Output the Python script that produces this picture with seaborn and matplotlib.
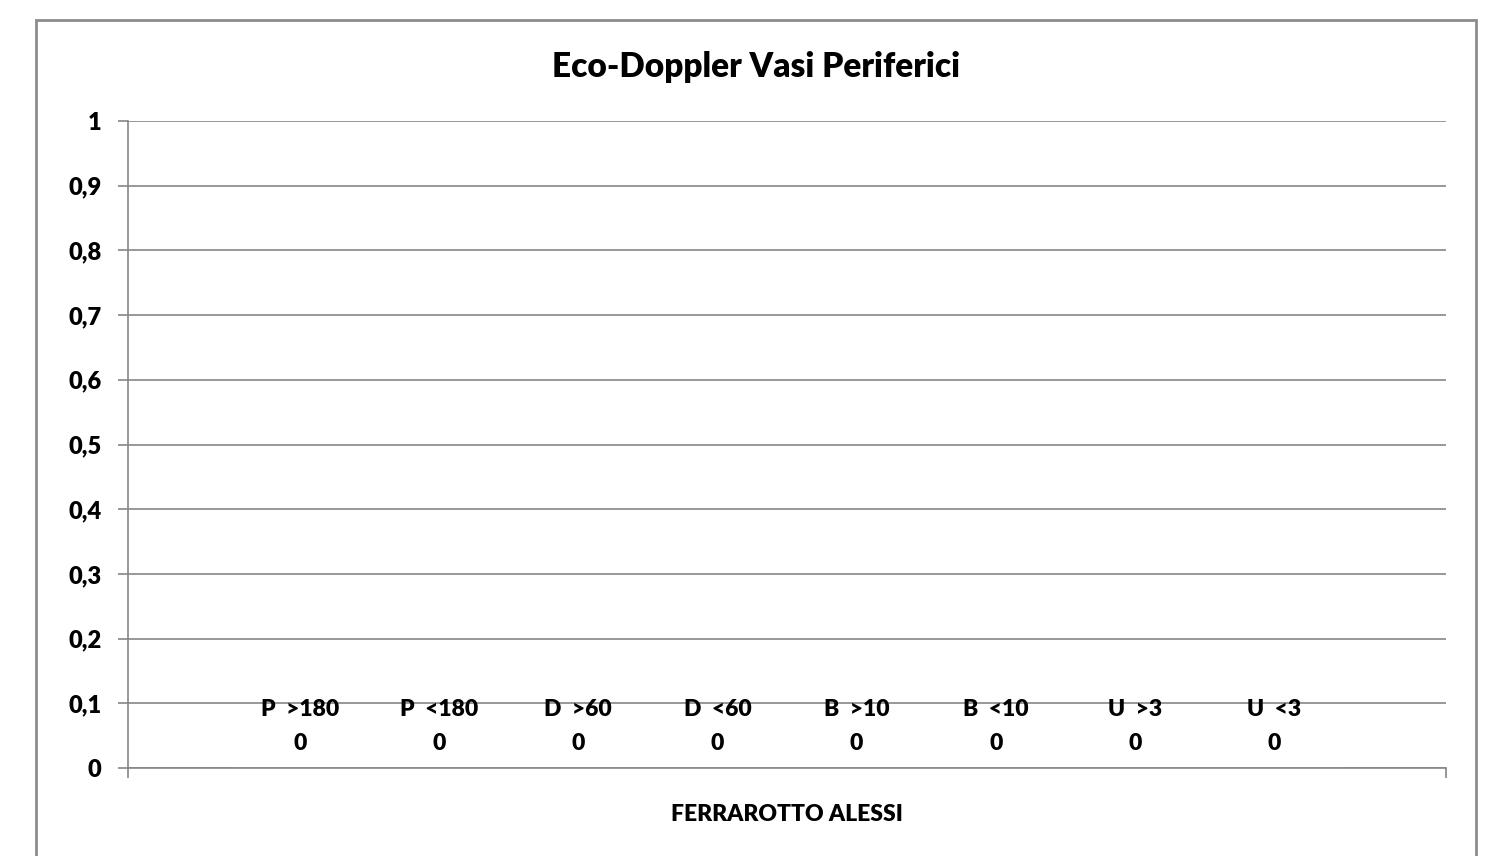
import matplotlib
matplotlib.use("Agg")
import matplotlib.pyplot as plt
import seaborn as sns
import pandas as pd
from matplotlib.patches import Rectangle
from matplotlib.ticker import FuncFormatter, FixedLocator

title = "Eco-Doppler Vasi Periferici"
category = "FERRAROTTO ALESSI"
series = ["P  >180", "P  <180", "D  >60", "D  <60", "B  >10", "B  <10", "U  >3", "U  <3"]
values = [0, 0, 0, 0, 0, 0, 0, 0]
y_ticks = [0, 0.1, 0.2, 0.3, 0.4, 0.5, 0.6, 0.7, 0.8, 0.9, 1]

sns.set_theme(style="white")
plt.rcParams["font.family"] = ["Lato", "DejaVu Sans"]
WEIGHT = "heavy"
plt.rcParams["font.weight"] = WEIGHT
plt.rcParams["text.color"] = "black"
plt.rcParams["xtick.labelcolor"] = "black"
plt.rcParams["ytick.labelcolor"] = "black"

df = pd.DataFrame({"cat": [category] * len(series), "serie": series, "val": values})

fig = plt.figure(figsize=(14.93, 8.56), dpi=100)
ax = fig.add_axes([128 / 1493, 88 / 856, (1446 - 128) / 1493, (768 - 121) / 856])

sns.barplot(data=df, x="cat", y="val", hue="serie", hue_order=series,
            width=0.845, gap=0, legend=False, ax=ax, errorbar=None)

grid_col = "#868686"
ax.set_ylim(0, 1)
ax.set_xlim(-0.5, 0.5)
ax.yaxis.set_major_locator(FixedLocator(y_ticks))
ax.yaxis.set_major_formatter(FuncFormatter(
    lambda v, p: ("%g" % round(v, 1)).replace(".", ",")))
ax.grid(axis="y", color=grid_col, linewidth=1.2)
ax.set_axisbelow(True)
for s in ["top", "right"]:
    ax.spines[s].set_visible(False)
for s in ["left", "bottom"]:
    ax.spines[s].set_color(grid_col)
    ax.spines[s].set_linewidth(1.2)

ax.tick_params(axis="y", which="major", length=7, width=1.2, color=grid_col,
               direction="out", left=True, pad=12, labelsize=17, labelcolor="black")
ax.tick_params(axis="x", which="major", length=0, pad=26, labelsize=16.5,
               labelcolor="black")
ax.set_xticks([-0.5, 0.5], minor=True)
ax.tick_params(axis="x", which="minor", length=7, width=1.2, color=grid_col,
               direction="out", bottom=True)
for lab in ax.get_yticklabels() + ax.get_xticklabels():
    lab.set_fontweight(WEIGHT)
ax.set_xlabel("")
ax.set_ylabel("")

for cont, name, v in zip(ax.containers, series, values):
    ax.bar_label(cont, labels=[f"{name}\n{v}"], padding=10, fontsize=16.5,
                 fontweight=WEIGHT, linespacing=1.75, color="black")

fig.text(0.5 * (36 + 1476) / 1493, 1 - 67 / 856, title, ha="center", va="center",
         fontsize=24, fontweight=WEIGHT, color="black")

fig.patches.append(Rectangle((36 / 1493, -0.05), (1476 - 36) / 1493, 1.05 - 20 / 856,
                             transform=fig.transFigure, fill=False,
                             edgecolor="#8c8c8c", linewidth=2))

fig.savefig("out.png", dpi=100)
